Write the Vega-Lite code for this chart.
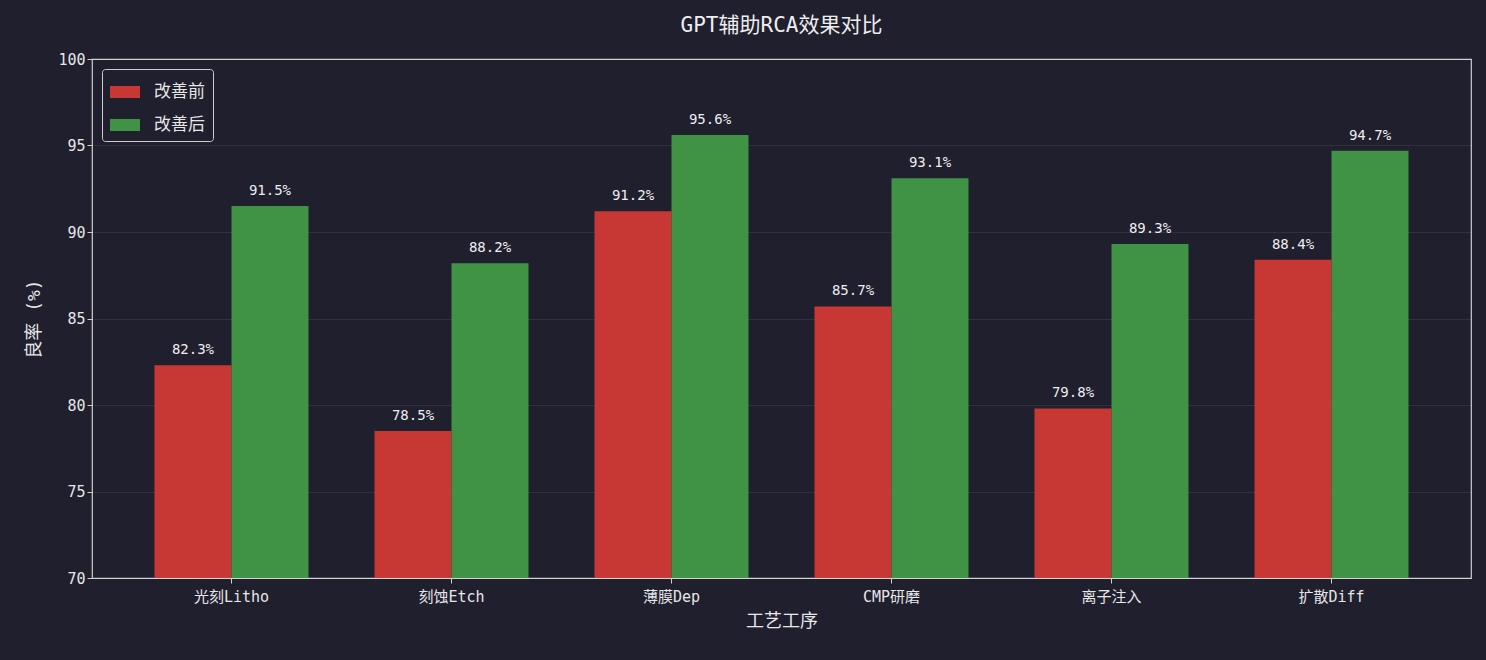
{
  "$schema": "https://vega.github.io/schema/vega-lite/v6.json",
  "width": 1379,
  "height": 519,
  "autosize": {"type": "none"},
  "padding": {"left": 92, "top": 59, "right": 15, "bottom": 82},
  "background": "#1f1f2e",
  "config": {
    "font": "DejaVu Sans Mono, Noto Sans CJK SC",
    "view": {"stroke": "#cfcfcf", "strokeWidth": 1.2},
    "axis": {"labelColor": "#e6e6e6", "titleColor": "#e6e6e6", "labelFontSize": 15, "titleFontSize": 18, "titleFontWeight": "normal", "domain": false, "tickColor": "#cfcfcf"}
  },
  "title": {"text": "GPT辅助RCA效果对比", "color": "#eeeeee", "fontSize": 21, "fontWeight": "normal", "offset": 16},
  "data": {"values": [
    {"p": "光刻Litho", "s": "改善前", "v": 82.3},
    {"p": "光刻Litho", "s": "改善后", "v": 91.5},
    {"p": "刻蚀Etch", "s": "改善前", "v": 78.5},
    {"p": "刻蚀Etch", "s": "改善后", "v": 88.2},
    {"p": "薄膜Dep", "s": "改善前", "v": 91.2},
    {"p": "薄膜Dep", "s": "改善后", "v": 95.6},
    {"p": "CMP研磨", "s": "改善前", "v": 85.7},
    {"p": "CMP研磨", "s": "改善后", "v": 93.1},
    {"p": "离子注入", "s": "改善前", "v": 79.8},
    {"p": "离子注入", "s": "改善后", "v": 89.3},
    {"p": "扩散Diff", "s": "改善前", "v": 88.4},
    {"p": "扩散Diff", "s": "改善后", "v": 94.7}
  ]},
  "encoding": {
    "x": {"field": "p", "type": "nominal", "sort": null, "title": "工艺工序",
      "scale": {"paddingInner": 0.3, "paddingOuter": 0.284},
      "axis": {"labelAngle": 0, "labelPadding": 6, "titlePadding": 8, "grid": false}},
    "xOffset": {"field": "s", "type": "nominal", "sort": ["改善前", "改善后"]},
    "y": {"field": "v", "type": "quantitative", "title": "良率 (%)",
      "scale": {"domain": [70, 100], "zero": false, "clamp": true},
      "axis": {"values": [70, 75, 80, 85, 90, 95, 100], "gridColor": "#ffffff", "gridOpacity": 0.08, "titlePadding": 14}}
  },
  "layer": [
    {
      "mark": {"type": "bar", "opacity": 0.9},
      "encoding": {
        "y2": {"datum": 70},
        "color": {"field": "s", "type": "nominal", "sort": ["改善前", "改善后"],
          "scale": {"domain": ["改善前", "改善后"], "range": ["#d93a35", "#449e48"]},
          "legend": {"title": null, "orient": "top-left", "offset": 10, "labelColor": "#e6e6e6", "labelFontSize": 17, "labelOffset": 14, "symbolType": "M-1,-0.4H1V0.4H-1Z", "symbolSize": 900, "symbolStrokeWidth": 0, "symbolOpacity": 0.9, "strokeColor": "#cfcfcf", "padding": 8, "cornerRadius": 3, "rowPadding": 10, "fillColor": "#1f1f2e"}}
      }
    },
    {
      "transform": [{"calculate": "format(datum.v, '.1f') + '%'", "as": "lbl"}],
      "mark": {"type": "text", "dy": -15, "color": "#eeeeee", "fontSize": 14},
      "encoding": {"text": {"field": "lbl", "type": "nominal"}}
    }
  ]
}
